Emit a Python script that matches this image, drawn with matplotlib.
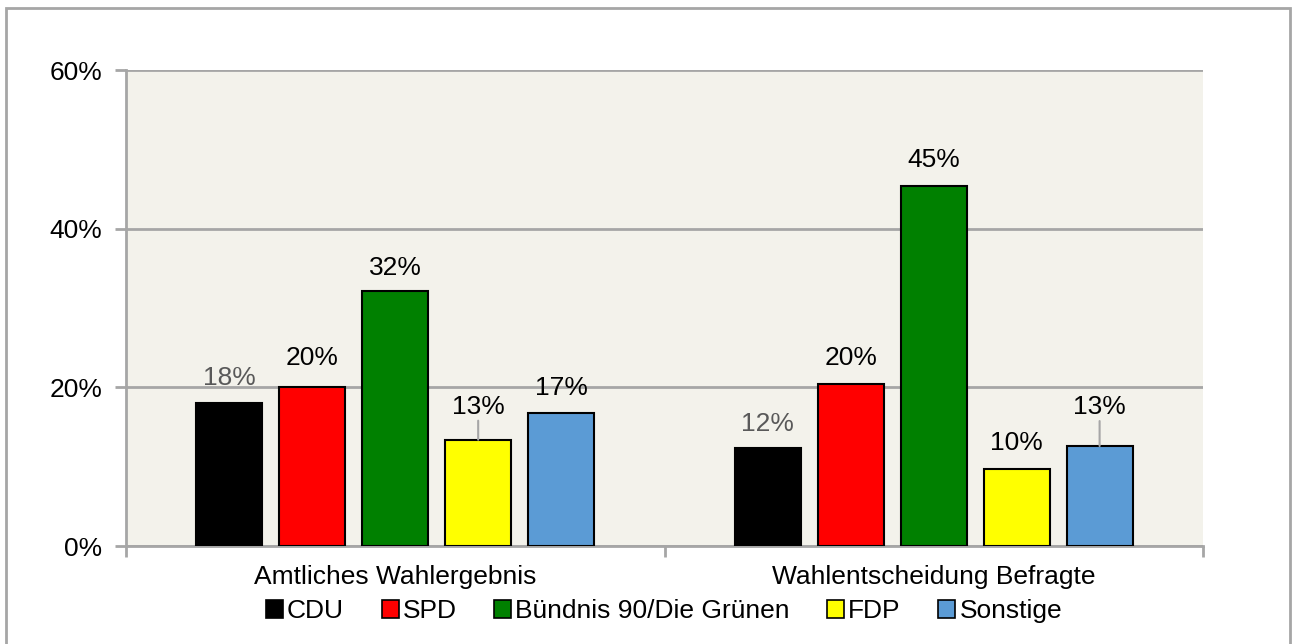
import matplotlib
matplotlib.use("Agg")
import matplotlib.pyplot as plt
from matplotlib.patches import Rectangle, Patch

categories = ["Amtliches Wahlergebnis", "Wahlentscheidung Befragte"]
parties = ["CDU", "SPD", "Bündnis 90/Die Grünen", "FDP", "Sonstige"]
values = {
    "CDU": [18.0, 12.4],
    "SPD": [20.0, 20.4],
    "Bündnis 90/Die Grünen": [32.1, 45.4],
    "FDP": [13.4, 9.7],
    "Sonstige": [16.8, 12.6],
}
labels = {
    "CDU": ["18%", "12%"],
    "SPD": ["20%", "20%"],
    "Bündnis 90/Die Grünen": ["32%", "45%"],
    "FDP": ["13%", "10%"],
    "Sonstige": ["17%", "13%"],
}
colors = ["#000000", "#FF0000", "#008000", "#FFFF00", "#5B9BD5"]
label_colors = ["#595959", "#000000", "#000000", "#000000", "#000000"]
yticks = [0, 20, 40, 60]
ytick_labels = ["0%", "20%", "40%", "60%"]

plt.rcParams["font.family"] = ["Liberation Sans", "DejaVu Sans"]
FS = 19

W, H = 1292, 644
fig = plt.figure(figsize=(W / 100, H / 100), dpi=100)
fig.patch.set_facecolor("white")

# outer chart border
fig.patches.append(Rectangle((6 / W, -0.1), (1290 - 6) / W, 1.1 - 8 / H,
                             transform=fig.transFigure, fill=False,
                             edgecolor="#A6A6A6", lw=2, zorder=0))

ax = fig.add_axes([126 / W, 1 - 546 / H, (1203 - 126) / W, (546 - 70) / H])
ax.set_facecolor("#F3F2EB")

step = 0.154
bw = 0.1226
# label offsets in pixels (layout only)
offsets = {
    ("CDU", 0): 25, ("SPD", 0): 29, ("Bündnis 90/Die Grünen", 0): 23,
    ("FDP", 0): 33, ("Sonstige", 0): 25,
    ("CDU", 1): 24, ("SPD", 1): 26, ("Bündnis 90/Die Grünen", 1): 26,
    ("FDP", 1): 26, ("Sonstige", 1): 39,
}
leaders = {("FDP", 0), ("Sonstige", 1)}

for i, p in enumerate(parties):
    xs = [c + (i - 2) * step for c in range(len(categories))]
    ax.bar(xs, values[p], width=bw, color=colors[i], edgecolor="black",
           linewidth=1.5, zorder=3, label=p)
    for j, (x, v) in enumerate(zip(xs, values[p])):
        off = offsets[(p, j)]
        ax.annotate(labels[p][j], (x, v), xytext=(0, off),
                    textcoords="offset pixels", ha="center", va="center",
                    fontsize=FS, color=label_colors[i], zorder=5)
        if (p, j) in leaders:
            ax.annotate("", (x, v), xytext=(0, off - 14),
                        textcoords="offset pixels",
                        arrowprops=dict(arrowstyle="-", color="#A6A6A6",
                                        lw=1.5, shrinkA=0, shrinkB=0),
                        zorder=4)

ax.set_ylim(0, 60)
ax.set_xlim(-0.5, 1.5)
ax.set_yticks(yticks)
ax.set_yticklabels(ytick_labels, fontsize=FS)
ax.yaxis.grid(True, color="#A6A6A6", lw=2, zorder=1)
ax.set_axisbelow(True)

ax.set_xticks(range(len(categories)))
ax.set_xticklabels(categories, fontsize=FS)
ax.set_xticks([-0.5, 0.5, 1.5], minor=True)
ax.tick_params(axis="x", which="major", length=0, pad=14)
ax.tick_params(axis="x", which="minor", length=8, width=2, color="#A6A6A6")
ax.tick_params(axis="y", length=8, width=2, color="#A6A6A6", pad=9)

for s in ["top", "right"]:
    ax.spines[s].set_visible(False)
for s in ["left", "bottom"]:
    ax.spines[s].set_color("#A6A6A6")
    ax.spines[s].set_linewidth(2)

handles = [Patch(facecolor=colors[i], edgecolor="black", lw=1.2, label=p)
           for i, p in enumerate(parties)]
fig.legend(handles=handles, loc="center", bbox_to_anchor=(664 / W, 1 - 611 / H),
           ncol=5, frameon=False, fontsize=FS, handlelength=0.65,
           handleheight=0.65, handletextpad=0.15, columnspacing=1.42,
           borderaxespad=0, borderpad=0)

fig.savefig("out.png", dpi=100)
